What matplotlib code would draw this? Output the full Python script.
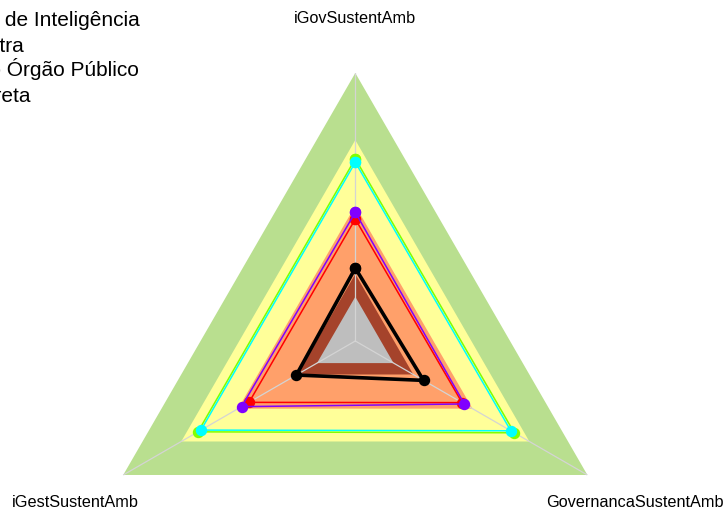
import numpy as np
import matplotlib
matplotlib.use("Agg")
from matplotlib import pyplot as plt

plt.rcParams["font.family"] = ["Liberation Sans", "DejaVu Sans"]

# axes of the radar, clockwise from the top
axes_labels = ["iGovSustentAmb", "GovernancaSustentAmb", "iGestSustentAmb"]

# background bands (outer radius, colour), from outside in
band_limits = [1.0, 0.75, 0.505, 0.25, 0.165]
band_colors = ["#B9DF8F", "#FFFF99", "#FFA06A", "#A5432B", "#BEBEBE"]

# series values in axis order: iGov, Governanca, iGest
series_names = [
    "Média do Tipo de Órgão Público",
    "Mediana da Amostra",
    "Média da Administração Direta",
    "Média do Órgão Público",
    "Agência Brasileira de Inteligência",
]
series_values = [
    [0.680, 0.685, 0.678],
    [0.667, 0.670, 0.665],
    [0.455, 0.460, 0.458],
    [0.480, 0.470, 0.490],
    [0.272, 0.294, 0.254],
]
series_colors = ["#80FF00", "#00FFFF", "#FF0000", "#8000FF", "#000000"]
series_widths = [1.1, 1.1, 1.1, 1.1, 2.6]

# legend lines as they show at the cut left edge
legend_lines = [
    "Agência Brasileira de Inteligência",
    "Mediana da Amostra",
    "Média do Órgão Público",
    "Média da Administração Direta",
]

fig = plt.figure(figsize=(7.24, 5.13), dpi=100)
ax = fig.add_axes([0.1206, -0.1871, 0.7403, 1.0448], projection="polar")
ax.set_theta_offset(np.pi / 2)
ax.set_theta_direction(-1)
ax.set_ylim(0, 1)
ax.grid(False)
ax.set_xticks([])
ax.set_yticks([])
ax.spines["polar"].set_visible(False)
ax.patch.set_alpha(0)

angles = np.linspace(0, 2 * np.pi, len(axes_labels), endpoint=False)
closed = np.append(angles, angles[0])

for r, c in zip(band_limits, band_colors):
    ax.fill(closed, [r] * len(closed), color=c, lw=0, zorder=1)

for a in angles:
    ax.plot([a, a], [0, 1], color="#D4D4D4", lw=0.9, zorder=2)

for vals, c, w, name in zip(series_values, series_colors,
                            series_widths, series_names):
    v = vals + vals[:1]
    ax.plot(closed, v, color=c, lw=w, marker="o", ms=7.2,
            label=name, zorder=3)

for a, lab in zip(angles, axes_labels):
    ax.text(a, 1.205, lab, ha="center", va="center", fontsize=11.7)

# legend text (partly outside the figure on the left)
right_ends = [140, 23.5, 138.5, 30]
baselines = [26, 51.5, 76.5, 101.5]
for txt, xr, yb in zip(legend_lines, right_ends, baselines):
    fig.text(xr / 724, 1 - yb / 513, txt, ha="right", va="baseline",
             fontsize=15)

fig.savefig("out.png", dpi=100)
